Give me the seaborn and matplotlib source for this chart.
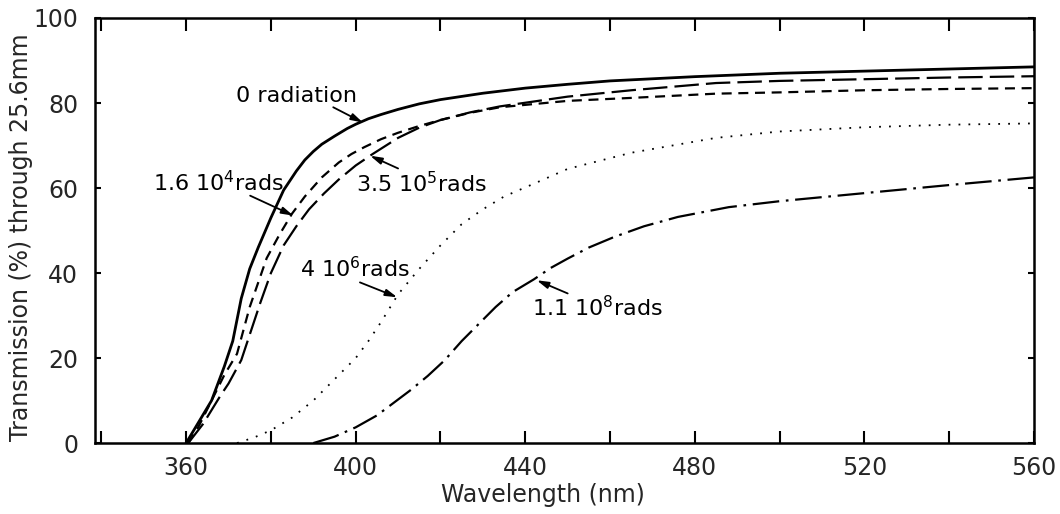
import numpy as np
import pandas as pd
import matplotlib
matplotlib.use("Agg")
import matplotlib.pyplot as plt
import seaborn as sns
from matplotlib.ticker import MultipleLocator

# ---- data ----
wl_0 = [360, 363, 366, 369, 371, 373, 375, 377, 380, 383, 386, 388, 390, 392, 395, 398,
        400, 403, 406, 410, 415, 420, 430, 440, 450, 460, 480, 500, 520, 540, 560]
tr_0 = [0, 5, 10, 18, 24, 34, 41, 46, 53, 59.5, 64, 66.6, 68.6, 70.3, 72.2, 74,
        75, 76.3, 77.3, 78.5, 79.8, 80.8, 82.3, 83.5, 84.4, 85.2, 86.2, 87, 87.5, 88, 88.5]

wl_16e4 = [360.5, 363, 366, 369, 372, 375, 379, 382, 385, 388, 392, 396, 399, 402, 406, 410,
           415, 420, 427, 434, 450, 465, 485, 500, 520, 540, 560]
tr_16e4 = [0, 4, 10, 16, 21, 32, 43.5, 49, 54, 58, 62.5, 66, 68, 69.6, 71.5, 73,
           74.6, 76, 77.7, 79, 80.5, 81.2, 82.2, 82.5, 83, 83.3, 83.5]

wl_35e5 = [360.5, 364, 368, 370, 373, 377.5, 380, 383, 386, 389, 392.5, 396, 400, 404, 410,
           415, 420, 427, 434, 450, 465, 485, 500, 520, 540, 560]
tr_35e5 = [0, 4.5, 11, 14, 19.5, 33, 40, 46.5, 51, 55, 58.7, 62, 65.3, 68, 71.8,
           74.2, 76, 77.8, 79.2, 81.5, 83, 84.7, 85.2, 85.6, 86, 86.3]

wl_4e6 = [372, 376, 380, 385, 390, 395, 400, 403, 406, 410, 415, 420, 425, 430, 435,
          442, 450, 465, 485, 500, 520, 540, 560]
tr_4e6 = [0, 1.3, 3, 6, 10, 15, 20, 24, 28.5, 35, 41, 46.5, 51.5, 55, 58,
          61, 64.5, 68.3, 71.8, 73.3, 74.3, 74.9, 75.2]

wl_11e8 = [390, 395, 400, 405, 409, 413, 417, 421, 425, 429, 433, 437, 442, 446, 450,
           455, 461, 468, 476, 488, 500, 520, 540, 560]
tr_11e8 = [0, 1.5, 3.7, 6.5, 9.5, 12.5, 15.8, 19.5, 24, 28, 32, 35.5, 38.5, 41.2, 43.4,
           46, 48.5, 51, 53.2, 55.5, 56.9, 58.8, 60.7, 62.5]

x_ticks = [360, 400, 440, 480, 520, 560]
y_ticks = [0, 20, 40, 60, 80, 100]

series = [
    (wl_0, tr_0, "-", 2.0),
    (wl_16e4, tr_16e4, (0, (4.5, 3.0)), 1.6),
    (wl_35e5, tr_35e5, (0, (11, 3.2)), 1.6),
    (wl_4e6, tr_4e6, (0, (1, 4.5)), 1.3),
    (wl_11e8, tr_11e8, (0, (12, 3, 1.2, 3)), 1.6),
]

# label text, text centre, arrow tail, arrow tip
notes = [
    ("0 radiation", (386, 81.7), (394.7, 79.0), (401.7, 75.4)),
    ("1.6 10$^{4}$rads", (367.6, 61.3), (375.1, 58.2), (385.3, 53.5)),
    ("3.5 10$^{5}$rads", (415.6, 61.0), (410.0, 64.6), (403.4, 67.6)),
    ("4 10$^{6}$rads", (399.9, 41.1), (401.0, 37.8), (409.8, 34.3)),
    ("1.1 10$^{8}$rads", (457.1, 31.9), (450.0, 35.2), (442.7, 38.3)),
]

sns.set_style("ticks")
plt.rcParams["font.family"] = ["DejaVu Sans"]
plt.rcParams["mathtext.fontset"] = "dejavusans"

fig = plt.figure(figsize=(10.6, 5.14), dpi=100)
ax = fig.add_axes([0.0896, 0.138, 0.8859, 0.827])

for wl, tr, ls, lw in series:
    sns.lineplot(x=wl, y=tr, ax=ax, color="black", linestyle=ls, linewidth=lw,
                 sort=False, estimator=None)

for text, c, tail, tip in notes:
    ax.text(c[0], c[1], text, ha="center", va="center", fontsize=16, color="black")
    ax.annotate("", xy=tip, xytext=tail,
                arrowprops=dict(arrowstyle="-|>,head_length=0.7,head_width=0.2",
                                color="black", lw=1.3, shrinkA=0, shrinkB=0))

ax.set_xlim(338.5, 560)
ax.set_ylim(0, 100)
ax.set_xticks(x_ticks)
ax.set_yticks(y_ticks)
ax.xaxis.set_minor_locator(MultipleLocator(20))
ax.tick_params(axis="both", which="both", direction="in", top=True, right=True,
               labelsize=17, width=1.5, color="black")
ax.tick_params(axis="x", which="major", length=9, pad=9)
ax.tick_params(axis="x", which="minor", length=9)
ax.tick_params(axis="y", which="major", length=9, pad=12)
ax.tick_params(axis="y", right=True, length=4)
for s in ax.spines.values():
    s.set_linewidth(1.8)
    s.set_color("black")

ax.set_xlabel("Wavelength (nm)", fontsize=17)
ax.set_ylabel("Transmission (%) through 25.6mm", fontsize=17)
ax.xaxis.set_label_coords(0.477, -0.095)
ax.yaxis.set_label_coords(-0.066, 0.485)

fig.savefig("out.png", dpi=100)
